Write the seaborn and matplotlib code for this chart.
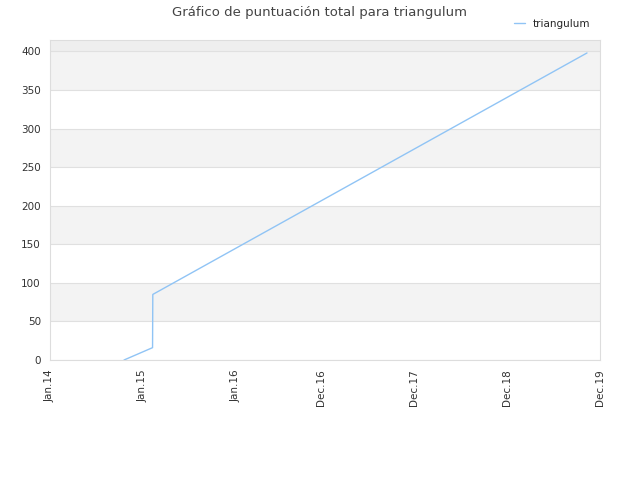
import pandas as pd
import matplotlib.pyplot as plt
import matplotlib.dates as mdates
import seaborn as sns

# data
fechas = ["2014-10-19", "2015-02-08", "2015-02-09", "2019-10-11"]
puntos = [0, 16, 85, 398]
tick_fechas = ["2014-01-01", "2015-01-01", "2016-01-01", "2016-12-01",
               "2017-12-01", "2018-12-01", "2019-12-01"]
tick_labels = ["Jan.14", "Jan.15", "Jan.16", "Dec.16", "Dec.17", "Dec.18", "Dec.19"]

df = pd.DataFrame({"fecha": pd.to_datetime(fechas), "puntos": puntos})

sns.set_style("white")
fig, ax = plt.subplots(figsize=(6.4, 4.8), dpi=100)
fig.subplots_adjust(left=0.078, right=0.9375, top=0.917, bottom=0.25)

# alternating bands
for lo in range(0, 450, 50):
    color = "#f3f3f3" if (lo // 50) % 2 == 1 else "white"
    if lo == 400:
        color = "#eeeeee"
    ax.axhspan(lo, lo + 50, color=color, zorder=0, lw=0)
for y in range(0, 450, 50):
    ax.axhline(y, color="#e0e0e0", lw=0.8, zorder=0.5)

sns.lineplot(data=df, x="fecha", y="puntos", ax=ax, color="#90c4f5",
             lw=1, label="triangulum")

ax.set_xlim(pd.Timestamp("2014-01-01"), pd.Timestamp("2019-12-01"))
ax.set_ylim(0, 415)
ax.set_yticks(range(0, 401, 50))
ax.set_xticks(pd.to_datetime(tick_fechas))
ax.set_xticklabels(tick_labels, rotation=90)
ax.tick_params(labelsize=7.5, colors="#333333", length=3)
ax.set_xlabel("")
ax.set_ylabel("")
for s in ax.spines.values():
    s.set_color("#dddddd")

fig.suptitle("Gráfico de puntuación total para triangulum", fontsize=9.5,
             color="#444444", y=0.987)
ax.legend(loc="upper right", bbox_to_anchor=(1.0, 1.095), frameon=False,
          fontsize=7.5, handlelength=1)
fig.savefig("out.png")
